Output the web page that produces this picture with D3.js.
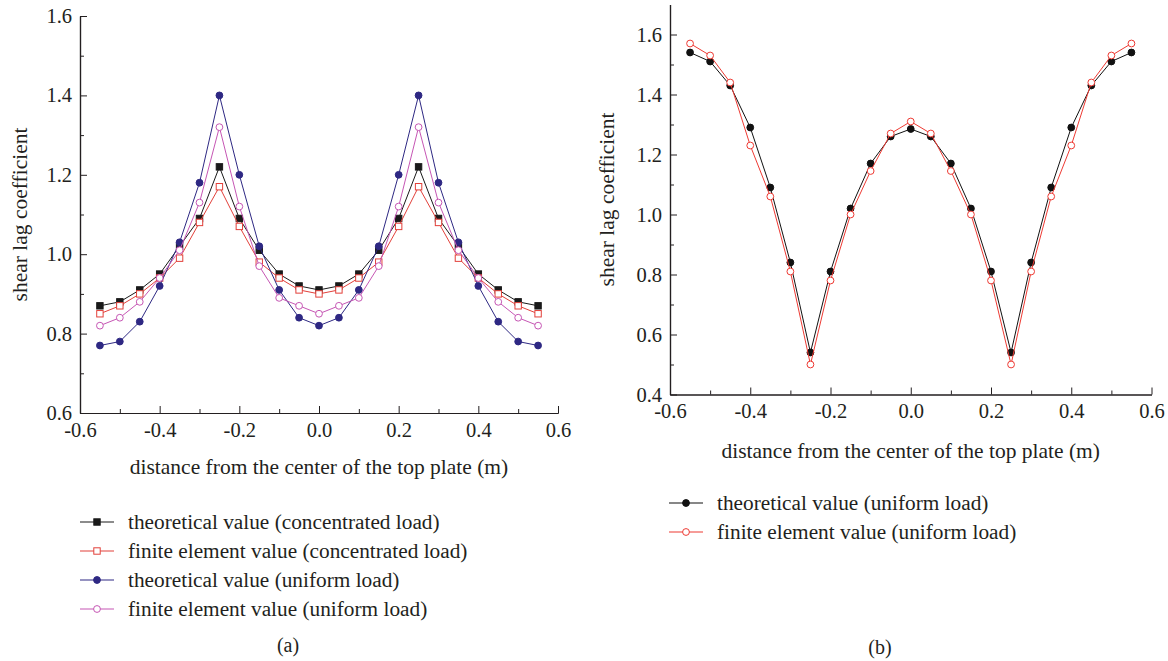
<!DOCTYPE html>
<html>
<head>
<meta charset="utf-8">
<script src="https://cdn.jsdelivr.net/npm/d3@7"></script>
<style>
  body { margin: 0; background: #fff; }
  svg text { font-family: "Liberation Serif", "DejaVu Serif", serif; fill: #231f20; }
</style>
</head>
<body>
<svg id="fig" width="1168" height="661"></svg>
<script>
// distance from the center of the top plate (m)
const positions = [-0.55, -0.50, -0.45, -0.40, -0.35, -0.30, -0.25, -0.20, -0.15, -0.10, -0.05, 0.00,
                   0.05, 0.10, 0.15, 0.20, 0.25, 0.30, 0.35, 0.40, 0.45, 0.50, 0.55];

// panel (a)
const theoConcentrated = [0.87, 0.88, 0.91, 0.95, 1.02, 1.09, 1.22, 1.09, 1.01, 0.95, 0.92, 0.91,
                          0.92, 0.95, 1.01, 1.09, 1.22, 1.09, 1.02, 0.95, 0.91, 0.88, 0.87];
const feConcentrated = [0.85, 0.87, 0.90, 0.94, 0.99, 1.08, 1.17, 1.07, 0.98, 0.94, 0.91, 0.90,
                        0.91, 0.94, 0.98, 1.07, 1.17, 1.08, 0.99, 0.94, 0.90, 0.87, 0.85];
const theoUniformA = [0.77, 0.78, 0.83, 0.92, 1.03, 1.18, 1.40, 1.20, 1.02, 0.91, 0.84, 0.82,
                      0.84, 0.91, 1.02, 1.20, 1.40, 1.18, 1.03, 0.92, 0.83, 0.78, 0.77];
const feUniformA = [0.82, 0.84, 0.88, 0.94, 1.01, 1.13, 1.32, 1.12, 0.97, 0.89, 0.87, 0.85,
                    0.87, 0.89, 0.97, 1.12, 1.32, 1.13, 1.01, 0.94, 0.88, 0.84, 0.82];

// panel (b)
const theoUniformB = [1.54, 1.51, 1.43, 1.29, 1.09, 0.84, 0.54, 0.81, 1.02, 1.17, 1.26, 1.285,
                      1.26, 1.17, 1.02, 0.81, 0.54, 0.84, 1.09, 1.29, 1.43, 1.51, 1.54];
const feUniformB = [1.57, 1.53, 1.44, 1.23, 1.06, 0.81, 0.50, 0.78, 1.00, 1.145, 1.27, 1.31,
                    1.27, 1.145, 1.00, 0.78, 0.50, 0.81, 1.06, 1.23, 1.44, 1.53, 1.57];

const xTicks = [-0.6, -0.4, -0.2, 0.0, 0.2, 0.4, 0.6];
const xMinorTicks = [-0.5, -0.3, -0.1, 0.1, 0.3, 0.5];
const yTicksA = [0.6, 0.8, 1.0, 1.2, 1.4, 1.6];
const yMinorTicksA = [0.7, 0.9, 1.1, 1.3, 1.5];
const yTicksB = [0.4, 0.6, 0.8, 1.0, 1.2, 1.4, 1.6];
const yMinorTicksB = [0.5, 0.7, 0.9, 1.1, 1.3, 1.5];

const xTitle = 'distance from the center of the top plate (m)';
const yTitle = 'shear lag coefficient';

const svg = d3.select('#fig');
const serif = '"Liberation Serif", serif';
const fmt = v => d3.format('.1f')(v).replace('\u2212', '-');

function drawPanel(cfg) {
  const x = d3.scaleLinear().domain([-0.6, 0.6]).range([cfg.left, cfg.right]);
  const y = d3.scaleLinear().domain(cfg.yDomain).range([cfg.bottom, cfg.top]);
  const g = svg.append('g');

  // minor ticks first, then major axes on top
  g.append('g').attr('transform', `translate(0,${cfg.bottom})`)
    .call(d3.axisBottom(x).tickValues(xMinorTicks).tickSize(-4).tickSizeOuter(0).tickFormat(''));
  g.append('g').attr('transform', `translate(${cfg.left},0)`)
    .call(d3.axisLeft(y).tickValues(cfg.yMinor).tickSize(-4).tickSizeOuter(0).tickFormat(''));

  const xAxis = g.append('g').attr('transform', `translate(0,${cfg.bottom})`)
    .call(d3.axisBottom(x).tickValues(xTicks).tickSize(-7).tickSizeOuter(0).tickPadding(cfg.xPad).tickFormat(fmt));
  const yAxis = g.append('g').attr('transform', `translate(${cfg.left},0)`)
    .call(d3.axisLeft(y).tickValues(cfg.yTicks).tickSize(-7).tickSizeOuter(0).tickPadding(8).tickFormat(fmt));

  g.selectAll('.domain').attr('stroke', '#231f20').attr('stroke-width', 1.2);
  g.selectAll('.tick line').attr('stroke', '#231f20');
  [xAxis, yAxis].forEach(a => {
    a.attr('font-family', serif).attr('font-size', 20.5);
    a.selectAll('text').style('font-family', serif).style('font-size', '20.5px').attr('fill', '#231f20');
  });

  g.append('text')
    .attr('x', (cfg.left + cfg.right) / 2).attr('y', cfg.xTitleY)
    .attr('text-anchor', 'middle').style('font-size', '21.5px')
    .text(xTitle);
  g.append('text')
    .attr('transform', `translate(${cfg.yTitleX},${(cfg.top + cfg.bottom) / 2}) rotate(-90)`)
    .attr('text-anchor', 'middle').style('font-size', '21.5px')
    .text(yTitle);

  const line = d3.line().x((d, i) => x(positions[i])).y(d => y(d));

  cfg.series.forEach(s => {
    g.append('path').datum(s.values)
      .attr('d', line).attr('fill', 'none')
      .attr('stroke', s.color).attr('stroke-width', 1);
    drawMarkers(g, s, s.values.map((v, i) => [x(positions[i]), y(v)]));
  });

  // legend
  const lg = svg.append('g');
  cfg.series.forEach((s, i) => {
    const cy = cfg.legendY + i * cfg.legendStep;
    lg.append('line')
      .attr('x1', cfg.legendX).attr('x2', cfg.legendX + 34)
      .attr('y1', cy).attr('y2', cy)
      .attr('stroke', s.color).attr('stroke-width', 1.2);
    drawMarkers(lg, s, [[cfg.legendX + 17, cy]]);
    lg.append('text')
      .attr('x', cfg.legendX + 48).attr('y', cy)
      .attr('dy', '0.33em').style('font-size', '21.3px')
      .text(s.label);
  });

  svg.append('text')
    .attr('x', cfg.capX).attr('y', cfg.capY)
    .attr('text-anchor', 'middle').style('font-size', '20px')
    .text(cfg.caption);
}

function drawMarkers(g, s, pts) {
  const filled = s.fill;
  if (s.shape === 'square') {
    g.selectAll(null).data(pts).join('rect')
      .attr('x', d => d[0] - 3.2).attr('y', d => d[1] - 3.2)
      .attr('width', 6.4).attr('height', 6.4)
      .attr('fill', filled ? s.color : '#fff')
      .attr('stroke', s.color).attr('stroke-width', 1);
  } else {
    g.selectAll(null).data(pts).join('circle')
      .attr('cx', d => d[0]).attr('cy', d => d[1]).attr('r', 3.4)
      .attr('fill', filled ? s.color : '#fff')
      .attr('stroke', s.color).attr('stroke-width', 1);
  }
}

drawPanel({
  left: 80, right: 558, top: 16, bottom: 413,
  yDomain: [0.6, 1.6], yTicks: yTicksA, yMinor: yMinorTicksA,
  xPad: 9, xTitleY: 474, yTitleX: 27,
  legendX: 80, legendY: 522, legendStep: 29,
  caption: '(a)', capX: 288, capY: 652,
  series: [
    { label: 'theoretical value (concentrated load)', values: theoConcentrated, color: '#1a1a1a', shape: 'square', fill: true },
    { label: 'finite element value (concentrated load)', values: feConcentrated, color: '#e2403a', shape: 'square', fill: false },
    { label: 'theoretical value (uniform load)', values: theoUniformA, color: '#2e2883', shape: 'circle', fill: true },
    { label: 'finite element value (uniform load)', values: feUniformA, color: '#c656b4', shape: 'circle', fill: false }
  ]
});

drawPanel({
  left: 670, right: 1151.5, top: 4.5, bottom: 394.5,
  yDomain: [0.4, 1.7], yTicks: yTicksB, yMinor: yMinorTicksB,
  xPad: 9, xTitleY: 458, yTitleX: 614,
  legendX: 669, legendY: 503, legendStep: 29,
  caption: '(b)', capX: 880, capY: 654,
  series: [
    { label: 'theoretical value (uniform load)', values: theoUniformB, color: '#111111', shape: 'circle', fill: true },
    { label: 'finite element value (uniform load)', values: feUniformB, color: '#ee3a33', shape: 'circle', fill: false }
  ]
});
</script>
</body>
</html>
